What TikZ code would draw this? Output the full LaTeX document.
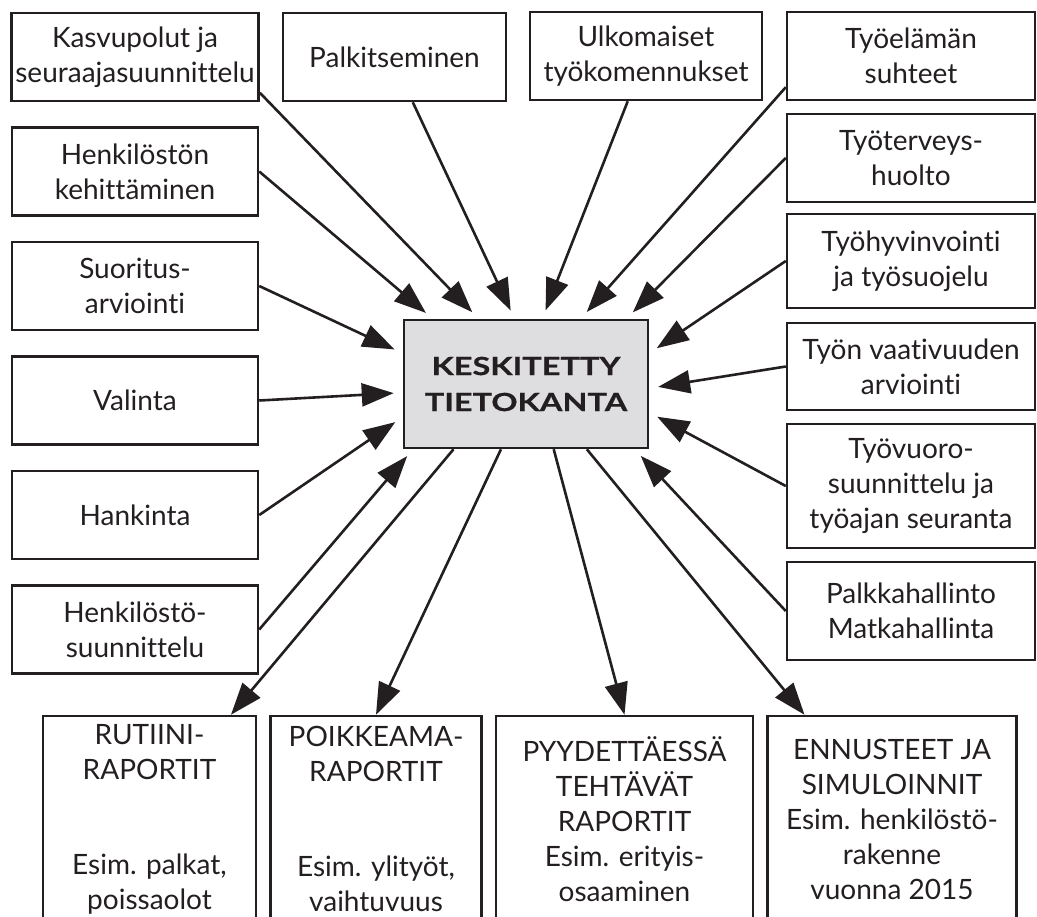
\documentclass[tikz,border=0pt]{standalone}
\usepackage{fontspec}
\setmainfont{Lato}[Ligatures=NoCommon]
\newfontfamily\dbfont{Lato}[FakeStretch=1.3, FakeBold=0.6, Ligatures=NoCommon]
\usetikzlibrary{arrows.meta, positioning}
\definecolor{inkGray}{RGB}{35, 31, 32}
\definecolor{dbGray}{RGB}{222, 222, 224}

\begin{document}
\begin{tikzpicture}[
        x=0.5pt, y=-0.5pt,
        node distance=12pt,
        box/.style={rectangle, draw=inkGray, line width=1.25pt, fill=white, text=inkGray, align=center, minimum height=44pt, inner sep=2pt, font=\fontsize{14}{17.5}\selectfont},
        sidebox/.style={box, minimum width=123pt},
        rightbox/.style={box, minimum width=124pt},
        reportbox/.style={box, minimum height=103pt, minimum width=#1},
        arrow/.style={-{Triangle[length=16pt, width=11.5pt]}, line width=1.3pt, inkGray, shorten >=4.5pt}
    ]
        \path[use as bounding box, clip] (0,0) rectangle (1037,916);

        % Left column
        \node[sidebox] (kp) at (135,57) {Kasvupolut ja\\seuraajasuunnittelu};
        \node[sidebox, below=of kp] (hk) {Henkilöstön\\kehittäminen};
        \node[sidebox, below=of hk] (sa) {Suoritus-\\arviointi};
        \node[sidebox, below=of sa] (va) {Valinta};
        \node[sidebox, below=of va] (ha) {Hankinta};
        \node[sidebox, below=of ha] (hs) {Henkilöstö-\\suunnittelu};

        % Top row
        \node[box, minimum width=111.5pt] (pk) at (394.5,57) {Palkitseminen};
        \node[box, minimum width=116pt] (uk) at (646,56) {Ulkomaiset\\työkomennukset};

        % Right column
        \node[rightbox] (te) at (911,56) {Työelämän\\suhteet};
        \node[rightbox] (tt) at (911,158) {Työterveys-\\huolto};
        \node[rightbox, minimum height=47pt] (th) at (911,261) {Työhyvinvointi\\ja työsuojelu};
        \node[rightbox, minimum height=43.5pt] (tv) at (911,366.5) {Työn vaativuuden\\arviointi};
        \node[rightbox, minimum height=62pt] (tw) at (911,486) {Työvuoro-\\suunnittelu ja\\työajan seuranta};
        \node[rightbox, minimum height=49pt] (ph) at (911,611) {Palkkahallinto\\Matkahallinta};

        % Central database
        \node[box, fill=dbGray, minimum width=122pt, minimum height=64pt, font=\dbfont\bfseries\fontsize{12.5}{18}\selectfont] (db) at (526,384) {KESKITETTY\\TIETOKANTA};

        % Reports
        \node[reportbox=106.5pt] (rr) at (149.5,819) {RUTIINI-\\RAPORTIT\\[30pt]Esim. palkat,\\poissaolot};
        \node[reportbox=105.5pt, right=6pt of rr] (pr) {POIKKEAMA-\\RAPORTIT\\[30pt]Esim. ylityöt,\\vaihtuvuus};
        \node[reportbox=128.5pt, right=6pt of pr] (yr) {PYYDETTÄESSÄ\\TEHTÄVÄT\\RAPORTIT\\Esim. erityis-\\osaaminen};
        \node[reportbox=124.5pt, right=6pt of yr] (er) {ENNUSTEET JA\\SIMULOINNIT\\Esim. henkilöstö-\\rakenne\\vuonna 2015};

        % Inputs
        \draw[arrow] (kp.-16) -- (db.126);
        \draw[arrow] (hk.east) -- (db.145);
        \draw[arrow] (sa.east) -- (db.166);
        \draw[arrow] (va.east) -- (db.184);
        \draw[arrow] (ha.east) -- (db.195);
        \draw[arrow] (hs.east) -- (db.210);
        \draw[arrow] (pk.-68) -- (db.100);
        \draw[arrow] (uk.-112) -- (db.76);
        \draw[arrow] (te.194) -- (db.50);
        \draw[arrow] (tt.west) -- (db.33);
        \draw[arrow] (th.west) -- (db.14);
        \draw[arrow] (tv.west) -- (db.-2);
        \draw[arrow] (tw.west) -- (db.-13);
        \draw[arrow] (ph.west) -- (db.-31);

        % Outputs
        \draw[arrow, shorten >=0pt] (db.222) -- (rr.52);
        \draw[arrow, shorten >=0pt] (db.249) -- (pr.north);
        \draw[arrow, shorten >=0pt] (db.-67) -- (yr.north);
        \draw[arrow, shorten >=0pt] (db.-47) -- (er.130);
    \end{tikzpicture}
\end{document}
